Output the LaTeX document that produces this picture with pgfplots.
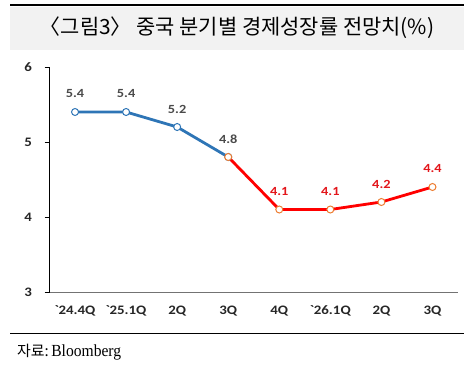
\documentclass[border=0pt]{standalone}
\usepackage{pgfplots}
\pgfplotsset{compat=1.18}
\usepackage{fontspec}
\setmainfont{Carlito}
\newfontfamily\kr{Noto Sans CJK KR}
\newfontfamily\srf{Liberation Serif}
\newfontfamily\lbl[FakeStretch=1.15]{Carlito}
\definecolor{cblue}{HTML}{2E75B6}
\definecolor{corange}{HTML}{ED7D31}
\definecolor{cred}{HTML}{FF0000}
\definecolor{lblgray}{HTML}{4A4A4A}
\definecolor{lblred}{HTML}{E3161B}
\pgfplotsset{
  vallabels/.style={
    nodes near coords={\pgfmathprintnumber[fixed,fixed zerofill,precision=1]{\pgfplotspointmeta}},
    every node near coord/.append style={font=\lbl\bfseries\fontsize{12.5}{15}\selectfont, anchor=center, yshift=18bp, text=#1},
  }
}
\begin{document}
\begin{tikzpicture}[x=1bp,y=1bp]
\useasboundingbox (0,0) rectangle (464,373);
\fill[black!5] (10,323) rectangle (464,366);
\draw[line width=1.5bp] (10,368) -- (464,368);
\node at (237,345) {\kr\fontsize{21}{25}\selectfont 〈그림3〉 중국 분기별 경제성장률 전망치(\%)};
\draw[line width=1bp] (10,39.5) -- (464,39.5);
\node[anchor=west, inner sep=0pt] at (17,21) {{\kr\fontsize{15}{18}\selectfont 자료:}\hspace{2.5bp}{\srf\fontsize{17}{20}\selectfont\addfontfeature{FakeStretch=0.92}Bloomberg}};
\begin{axis}[
  at={(49.5bp,81bp)}, anchor=south west, scale only axis,
  width=408.5bp, height=225bp,
  xmin=-0.5, xmax=7.5, ymin=3, ymax=6,
  axis x line=bottom, axis y line=left,
  axis line style={-},
  x axis line style={draw=black!55, line width=1bp},
  y axis line style={draw=black, line width=0.9bp},
  ytick={3,4,5,6},
  xtick={0,...,7},
  xticklabels={\textasciigrave24.4Q,\textasciigrave25.1Q,2Q,3Q,4Q,\textasciigrave26.1Q,2Q,3Q},
  tick align=outside, major tick length=5bp,
  ytick style={draw=black, line width=0.9bp},
  xtick style={draw=none},
  tick label style={font=\lbl\bfseries\fontsize{13}{15}\selectfont, text=black!85},
  /pgf/number format/assume math mode=true,
  yticklabel style={xshift=-9bp},
  xticklabel style={yshift=-5bp},
  clip=false,
]
\addplot[cblue, line width=2.8bp, mark=*, mark size=3.5bp,
  mark options={fill=white, draw=cblue, line width=1bp},
  vallabels=lblgray]
  coordinates {(0,5.4) (1,5.4) (2,5.2) (3,4.8)};
\addplot[cred, line width=2.8bp, mark=*, mark size=3.5bp,
  mark options={fill=white, draw=corange, line width=1bp}]
  coordinates {(3,4.8) (4,4.1) (5,4.1) (6,4.2) (7,4.4)};
\addplot[draw=none, mark=none, vallabels=lblred]
  coordinates {(4,4.1) (5,4.1) (6,4.2) (7,4.4)};
\end{axis}
\end{tikzpicture}
\end{document}
